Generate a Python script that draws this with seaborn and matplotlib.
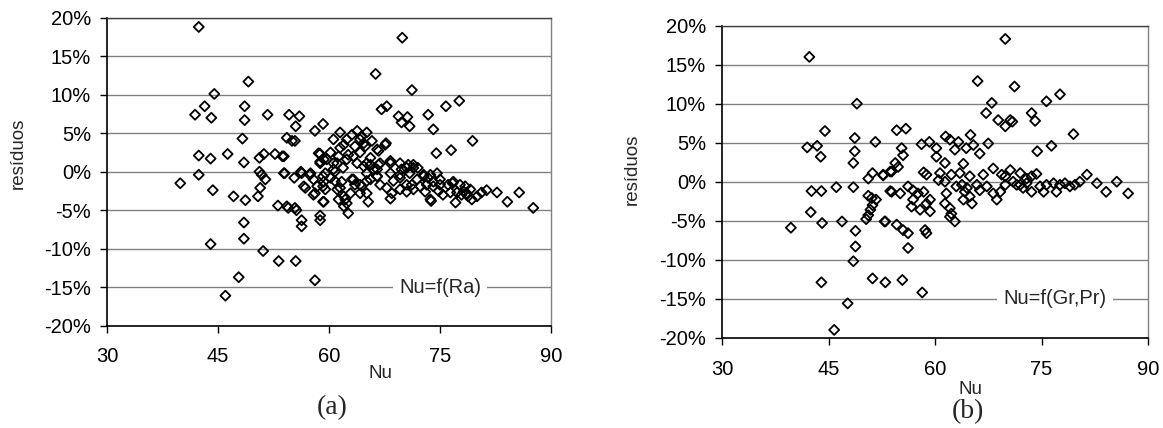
import numpy as np
import pandas as pd
import matplotlib
matplotlib.use("Agg")
import matplotlib.pyplot as plt
import seaborn as sns
from matplotlib.ticker import PercentFormatter

# ---------------- data ----------------
# panel (a): Nu = f(Ra)   (Nu, residual in %)
nu_a = [
    42.4, 49.1, 44.5, 43.2, 41.9, 44.1, 48.6, 48.6, 51.7, 54.6, 56.0, 55.5, 59.2, 58.1, 48.3, 54.3,
    55.0, 55.4, 42.4, 44.0, 46.3, 48.5, 50.6, 51.2, 52.7, 53.7, 58.8, 58.8, 39.9, 42.4, 44.3, 47.1,
    48.7, 50.4, 50.6, 50.9, 51.4, 50.7, 54.0, 55.3, 56.2, 57.4, 56.8, 58.1, 59.2, 59.2, 53.1, 54.5,
    55.6, 56.3, 56.3, 58.8, 58.8, 48.5, 48.5, 44.0, 51.1, 53.2, 55.5, 47.8, 58.1, 46.0,
    69.9, 66.3, 71.2, 67.1, 67.8, 75.8, 77.6, 73.4, 70.6, 69.4, 69.8, 70.9, 74.1, 79.4, 74.5, 76.5,
    87.6, 85.7, 84.1, 82.7, 81.3, 80.6, 80.0, 79.3, 78.6, 78.2,
    76.7, 77.3, 77.1, 75.4, 74.8, 73.8, 74.1, 74.6, 73.2, 72.3, 72.0, 70.7, 71.2, 70.5, 70.9, 72.8,
    73.7, 75.0, 76.1, 77.7, 79.1, 71.4, 72.8, 73.4, 74.1, 75.0, 76.8, 78.4, 71.4, 73.0, 73.7, 76.4,
    77.9, 78.8,
    69.8, 69.6, 68.5, 68.3, 68.3, 68.7, 66.9, 66.5, 66.0, 65.6, 65.1, 65.3, 64.2, 63.3, 62.9, 62.2,
    62.6, 62.0, 61.5, 60.8, 60.6, 61.1, 60.2, 61.3, 62.4, 61.5, 63.1, 63.8, 64.4, 65.1, 65.8, 66.7,
    67.6, 64.9, 64.2, 63.3, 62.4, 61.9, 64.7, 66.7, 69.6, 59.2, 59.5, 59.7,
    64.2, 67.7, 66.5, 64.7, 63.5, 62.0, 60.6, 61.5, 62.6, 65.6, 66.9, 68.3, 65.1, 63.8, 60.6, 59.3,
    58.6, 58.8, 57.5, 56.3, 53.9, 53.9, 57.9, 58.4, 59.3, 59.5, 57.9, 56.6, 60.8, 61.7, 60.2, 61.1,
    63.1, 63.5, 64.4, 65.1, 65.6, 66.5, 67.8, 69.6, 70.5, 71.4, 71.9, 70.5, 69.6, 68.3, 62.0, 62.4,
    61.3, 59.3, 54.3, 55.4, 64.2, 66.5, 65.1,
]
res_a = [
    18.8, 11.7, 10.1, 8.5, 7.4, 7.0, 8.5, 6.7, 7.4, 7.4, 7.2, 5.9, 6.2, 5.3, 4.3, 4.4,
    4.0, 4.0, 2.1, 1.7, 2.3, 1.2, 1.8, 2.3, 2.3, 2.0, 2.3, 1.3, -1.5, -0.4, -2.4, -3.2,
    -3.7, -3.2, 0.0, -0.4, -1.0, -2.1, -0.2, -0.8, 0.0, -0.4, -2.1, -2.8, -0.6, -3.9, -4.4, -4.7,
    -5.0, -6.3, -7.1, -5.7, -6.3, -6.6, -8.7, -9.4, -10.3, -11.6, -11.6, -13.7, -14.1, -16.1,
    17.4, 12.7, 10.6, 8.1, 8.5, 8.5, 9.2, 7.4, 7.1, 7.2, 6.4, 5.9, 5.5, 4.0, 2.4, 2.8,
    -4.7, -2.7, -3.9, -2.7, -2.4, -2.7, -3.2, -3.6, -2.8, -2.6,
    -1.5, -2.7, -4.0, -3.0, -2.5, -3.8, -1.9, -0.2, -1.7, -1.9, 0.5, 0.9, -1.7, -2.6, -0.2, -0.6,
    -0.4, -1.0, -1.7, -1.7, -2.3, 0.5, -0.4, -0.8, -1.3, -1.7, -1.3, -1.9, -2.3, -2.6, -3.6, -2.7,
    -3.0, -3.2,
    0.3, -0.8, -2.8, 1.1, -3.5, -1.2, -1.7, -0.6, 0.3, 0.9, -1.2, -3.9, -1.7, -1.0, -2.8, -3.6,
    -5.4, -4.5, -2.1, -1.2, 0.3, 1.1, 2.5, 2.0, 4.2, 5.1, 4.8, 5.3, 4.6, 5.1, 4.0, 2.7,
    3.5, 3.3, 2.5, 2.0, 1.6, 0.5, 0.7, 0.9, 1.1, -1.9, -0.2, 1.6,
    4.2, 3.7, 2.9, 3.7, 3.3, 3.5, 4.2, 3.1, 2.2, 1.8, 1.1, 1.4, 1.1, 1.1, 1.1, 1.6,
    2.4, 1.1, -0.2, -0.2, -0.2, 2.0, -1.0, -1.9, -1.3, -2.3, -3.0, -1.9, 0.0, -1.3, -0.8, -2.3,
    -1.0, -1.7, -1.9, -2.8, -1.0, -0.6, -2.1, -2.3, 0.5, 0.9, -1.0, -1.7, -0.4, -0.2, -3.2, -4.1,
    -3.6, -3.9, -4.5, -4.7, -2.8, 0.3, -0.2,
]

# panel (b): Nu = f(Gr, Pr)
nu_b = [
    42.3, 49.0, 44.5, 42.0, 43.4, 43.9, 48.7, 48.7, 48.5, 51.6, 50.6, 51.2, 52.7, 53.7, 42.6, 44.0,
    46.1, 48.5, 53.7, 50.6, 51.1, 51.7, 51.2, 50.9, 50.6, 50.3, 42.5, 44.1, 46.9, 39.7, 53.0, 48.8,
    48.8, 48.5, 44.0, 51.2, 53.0, 47.7, 45.8, 58.2, 55.4,
    69.9, 66.0, 71.2, 77.6, 75.7, 68.0, 67.2, 68.9, 69.9, 70.6, 70.9, 73.6, 74.1, 79.5, 54.6, 55.9,
    76.4, 74.4, 55.3, 55.5, 54.4, 54.8, 53.9, 52.7,
    58.1, 59.2, 60.2, 61.5, 62.1, 63.3, 62.8, 64.4, 65.0, 65.4, 66.3, 67.5,
    60.2, 61.4, 64.0, 68.2, 70.6, 74.3,
    58.4, 58.8, 60.5, 60.7, 62.3, 63.5, 64.9, 66.8, 69.4, 69.9, 72.0, 72.9, 73.6, 81.4, 82.8, 85.6,
    84.1, 87.2,
    56.2, 56.9, 57.6, 58.4, 59.3, 58.8, 57.9, 56.9, 56.7, 59.3, 61.6, 61.4, 62.1, 62.3, 62.8, 62.1,
    63.8, 64.2, 64.9, 65.2, 64.5, 65.9, 66.3, 67.3, 68.2, 68.7, 69.2, 71.0, 72.0, 72.4, 73.6, 74.8,
    75.3, 76.7, 77.1, 78.3, 79.0, 79.7, 80.4, 53.9, 55.1, 52.9, 54.6, 55.5, 56.2, 56.2, 58.6, 58.8,
    61.4, 63.0, 64.0, 69.9, 71.5, 72.9, 75.7, 77.6,
]
res_b = [
    16.0, 10.0, 6.5, 4.4, 4.6, 3.2, 5.6, 3.9, 2.4, 5.1, 0.4, 1.1, 0.8, 1.3, -1.2, -1.2,
    -0.7, -0.7, -1.2, -1.8, -2.1, -2.3, -3.0, -3.6, -4.3, -4.8, -3.9, -5.3, -5.1, -5.9, -5.1, -6.3,
    -8.3, -10.2, -12.9, -12.4, -12.9, -15.6, -19.0, -14.2, -12.6,
    18.3, 12.9, 12.2, 11.2, 10.3, 10.1, 8.8, 7.9, 7.1, 7.9, 7.7, 8.8, 7.8, 6.1, 6.6, 6.8,
    4.6, 3.9, 4.3, 3.4, 2.4, 1.9, 1.3, 0.9,
    4.8, 5.1, 4.3, 5.8, 5.4, 5.1, 4.1, 4.3, 6.0, 4.7, 3.6, 4.9,
    3.2, 2.4, 2.3, 1.7, 1.5, 1.0,
    1.2, 0.9, 0.2, 1.1, 0.9, 1.1, 0.7, 0.9, 0.9, 0.7, 1.1, 0.4, 0.7, 0.9, -0.2, 0.0,
    -1.3, -1.5,
    -0.6, -1.1, -1.5, -1.3, -2.3, -2.8, -3.6, -2.3, -3.2, -3.8, -1.5, -2.8, -3.4, -4.1, -5.1, -4.5,
    -0.4, -1.3, -1.9, -2.8, -0.8, -0.4, -1.1, -0.6, -1.5, -2.3, -1.3, 0.0, -0.4, -0.8, -1.3, -0.6,
    -1.3, -0.2, -1.3, -0.2, -0.6, -0.4, 0.0, -1.3, -1.5, -5.1, -5.5, -6.2, -6.6, -8.5, -6.2, -6.6,
    0.0, -0.6, -2.3, -0.4, -0.4, -0.2, -0.4, -0.4,
]

panel_labels = ["(a)", "(b)"]
legend_texts = ["Nu=f(Ra)", "Nu=f(Gr,Pr)"]
legend_x = [75.0, 76.9]
x_ticks = [30, 45, 60, 75, 90]
y_ticks = [-20, -15, -10, -5, 0, 5, 10, 15, 20]
x_label = "Nu"
y_label = "resíduos"

# ---------------- style ----------------
sns.set_theme(style="white")
plt.rcParams["font.family"] = ["Liberation Sans", "DejaVu Sans"]
plt.rcParams["axes.unicode_minus"] = False

W, H = 1163, 428
fig = plt.figure(figsize=(W / 100, H / 100), dpi=100)

# axes boxes in pixel coords: (left, top, right, bottom)
boxes = [(107, 17.7, 551, 325.7), (722, 25.7, 1148, 337.7)]
xlab_pos = [(380, 373), (970, 389)]
ylab_x = [18, 632]
ylab_y_frac = [0.56, 0.54]
panel_pos = [(332, 408), (968, 412)]
xpads = [10, 11]

datasets = [pd.DataFrame({"Nu": nu_a, "res": res_a}),
            pd.DataFrame({"Nu": nu_b, "res": res_b})]

for i, df in enumerate(datasets):
    l, t, r, b = boxes[i]
    ax = fig.add_axes([l / W, 1 - b / H, (r - l) / W, (b - t) / H])
    ax.set_xlim(30, 90)
    ax.set_ylim(-20, 20)
    ax.set_xticks(x_ticks)
    ax.set_yticks(y_ticks)
    ax.yaxis.set_major_formatter(PercentFormatter(xmax=100, decimals=0))
    ax.grid(axis="y", color="#808080", linewidth=1.0, zorder=0)
    ax.set_axisbelow(True)

    sns.scatterplot(data=df, x="Nu", y="res", ax=ax, marker="D", s=26,
                    facecolor="none", edgecolor="black", linewidth=1.3,
                    zorder=3, legend=False)

    for side in ["left", "bottom"]:
        ax.spines[side].set_color("black")
        ax.spines[side].set_linewidth(1.2)
    ax.spines["right"].set_color("#808080")
    ax.spines["right"].set_linewidth(1.0)
    ax.spines["top"].set_color("#404040")
    ax.spines["top"].set_linewidth(1.0)

    ax.tick_params(axis="both", direction="out", length=5, width=1.0,
                   color="black", labelsize=14.5, labelcolor="black",
                   left=True, bottom=True)
    ax.tick_params(axis="x", pad=xpads[i])
    ax.tick_params(axis="y", pad=6.5)

    ax.set_xlabel(x_label, fontsize=13.5, va="center", ha="center")
    ax.xaxis.set_label_coords((xlab_pos[i][0] - l) / (r - l),
                              (b - xlab_pos[i][1]) / (b - t))
    ax.set_ylabel(y_label, fontsize=13.5, va="center", ha="center")
    ax.yaxis.set_label_coords((ylab_x[i] - l) / (r - l), ylab_y_frac[i])

    ax.text(legend_x[i], -15, legend_texts[i], ha="center", va="center",
            fontsize=14.5, zorder=4,
            bbox=dict(facecolor="white", edgecolor="none", pad=4.5))

    fig.text(panel_pos[i][0] / W, 1 - panel_pos[i][1] / H, panel_labels[i],
             ha="center", va="center", fontsize=20,
             family=["Liberation Serif", "DejaVu Serif"])

fig.savefig("out.png", dpi=100, facecolor="white")
